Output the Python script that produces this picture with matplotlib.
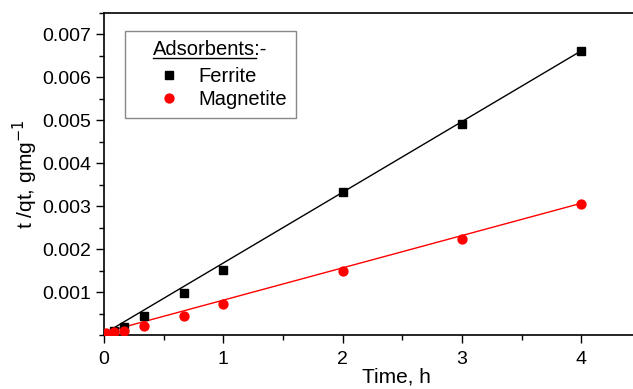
import matplotlib
matplotlib.use("Agg")
import matplotlib.pyplot as plt
import numpy as np
from matplotlib.lines import Line2D
from matplotlib.ticker import MultipleLocator, FormatStrFormatter

plt.rcParams['font.family'] = ['Liberation Sans', 'DejaVu Sans']

# Data
ferrite_t = [0.0833, 0.1667, 0.3333, 0.6667, 1.0, 2.0, 3.0, 4.0]
ferrite_y = [0.00010, 0.00019, 0.00045, 0.00098, 0.00152, 0.00333, 0.00491, 0.00662]
magnetite_t = [0.0167, 0.0833, 0.1667, 0.3333, 0.6667, 1.0, 2.0, 3.0, 4.0]
magnetite_y = [0.00005, 0.00006, 0.00010, 0.00021, 0.00044, 0.00072, 0.00150, 0.00224, 0.00306]
# linear fit parameters (slope, intercept)
ferrite_fit = [0.001647, 0.00003]
magnetite_fit = [0.000752, 0.00006]
series_names = ["Ferrite", "Magnetite"]
legend_title_main = "Adsorbents"
legend_title_tail = ":-"
x_label = "Time, h"
y_label = "t /qt, gmg$^{-1}$"
y_major_ticks = [0.001, 0.002, 0.003, 0.004, 0.005, 0.006, 0.007]

W, H = 633, 389
fig = plt.figure(figsize=(W / 100, H / 100), dpi=100)
ax = fig.add_axes([104 / W, 54 / H, 584.6 / W, 322 / H])

for xs, ys, fit, col, mk, ms, name in [
    (ferrite_t, ferrite_y, ferrite_fit, 'black', 's', 5.8, series_names[0]),
    (magnetite_t, magnetite_y, magnetite_fit, 'red', 'o', 6.4, series_names[1]),
]:
    xs = np.array(xs); ys = np.array(ys)
    k, b = fit
    xx = np.array([xs.min(), xs.max()])
    ax.plot(xx, k * xx + b, color=col, lw=1.0, zorder=2)
    ax.plot(xs, ys, linestyle='none', marker=mk, ms=ms, color=col,
            markeredgecolor=col, label=name, zorder=3)

ax.set_xlim(0, 4.9)
ax.set_ylim(0, 0.0075)
ax.xaxis.set_major_locator(MultipleLocator(1))
ax.xaxis.set_minor_locator(MultipleLocator(0.5))
ax.set_yticks(y_major_ticks)
ax.yaxis.set_minor_locator(MultipleLocator(0.0005))
ax.yaxis.set_major_formatter(FormatStrFormatter('%.3f'))
ax.tick_params(which='major', direction='out', length=6, width=1.0, labelsize=14, pad=3,
               top=False, right=False)
ax.tick_params(axis='x', which='major', pad=5.5)
ax.tick_params(which='minor', direction='out', length=3.5, width=1.0, top=False, right=False)
ax.spines['right'].set_visible(False)
for s in ['left', 'bottom', 'top']:
    ax.spines[s].set_linewidth(1.2)

ax.set_xlabel(x_label, fontsize=15, labelpad=0)
ax.set_ylabel(y_label, fontsize=15, labelpad=1.5)

leg = ax.legend(loc='upper left', bbox_to_anchor=(125 / W, 1 - 31 / H),
                bbox_transform=fig.transFigure, title=legend_title_main + legend_title_tail,
                fontsize=14.5, title_fontsize=14.5, frameon=True, fancybox=False,
                edgecolor='#888888', framealpha=1, borderpad=0.45, handletextpad=-0.3,
                labelspacing=0.2, handlelength=3.5, borderaxespad=0)
leg.get_frame().set_linewidth(1.0)
leg._legend_box.sep = 6.0

fig.canvas.draw()
renderer = fig.canvas.get_renderer()
title = leg.get_title()
bb = title.get_window_extent(renderer)
tmp = fig.text(0, 0, legend_title_main, fontsize=14.5)
wmain = tmp.get_window_extent(renderer).width
tmp.remove()
y_ul = bb.y0 + 1
fig.add_artist(Line2D([bb.x0, bb.x0 + wmain], [y_ul, y_ul], transform=None,
                      color='black', lw=1.0))

fig.savefig('out.png', dpi=100)
